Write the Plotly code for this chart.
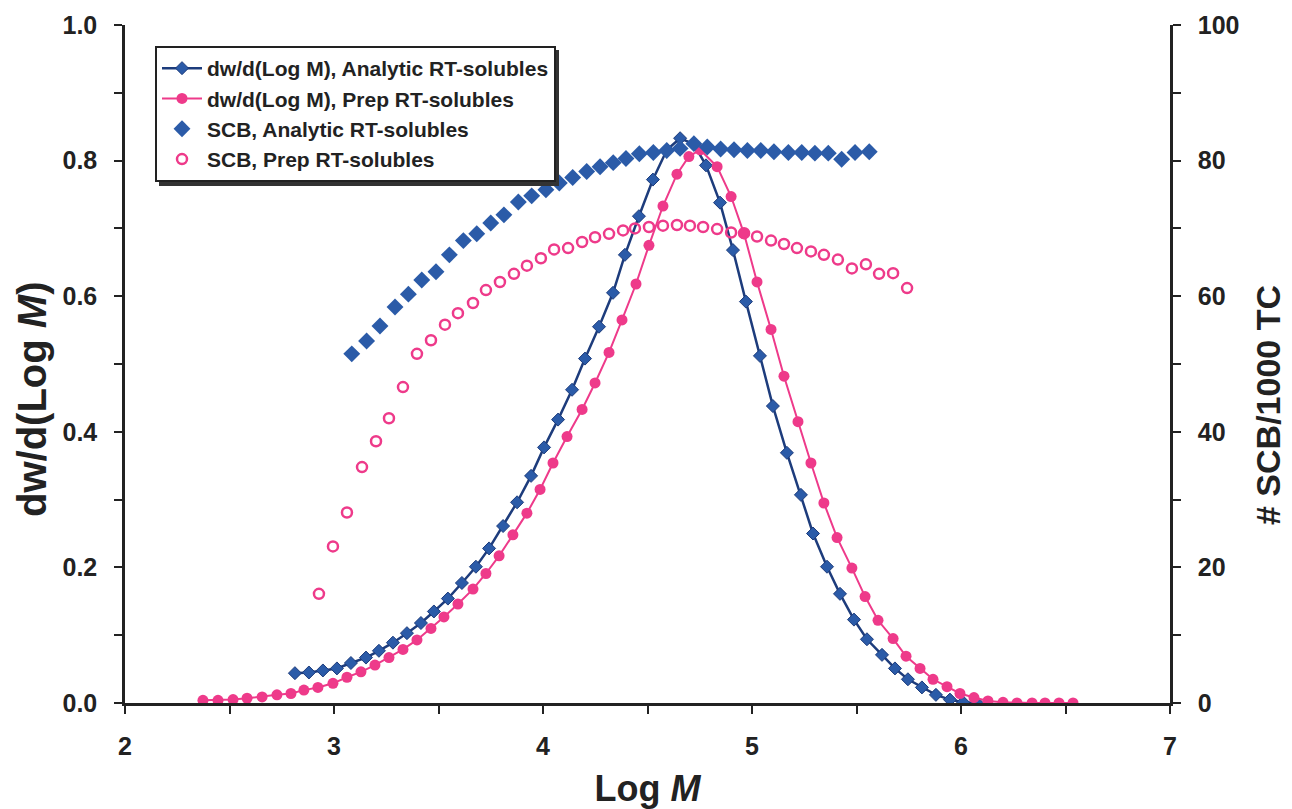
import plotly.graph_objects as go

# ---- data (Log M values and y-values) ----
ana_x = [2.813, 2.880, 2.947, 3.014, 3.081, 3.153, 3.215, 3.282, 3.349, 3.416,
         3.478, 3.545, 3.612, 3.679, 3.742, 3.809, 3.876, 3.943, 4.005, 4.072,
         4.139, 4.201, 4.268, 4.335, 4.392, 4.459, 4.526, 4.593, 4.656, 4.722,
         4.780, 4.847, 4.909, 4.971, 5.038, 5.100, 5.167, 5.234, 5.292, 5.359,
         5.421, 5.488, 5.550, 5.622, 5.684, 5.746, 5.813, 5.880, 5.947, 6.010,
         6.077]
ana_dw = [0.044, 0.045, 0.048, 0.051, 0.059, 0.067, 0.077, 0.089, 0.103, 0.118,
          0.135, 0.154, 0.177, 0.201, 0.228, 0.261, 0.296, 0.335, 0.377, 0.418,
          0.462, 0.508, 0.555, 0.605, 0.661, 0.718, 0.772, 0.816, 0.833, 0.824,
          0.793, 0.738, 0.668, 0.592, 0.512, 0.438, 0.369, 0.307, 0.250, 0.201,
          0.161, 0.123, 0.094, 0.071, 0.051, 0.035, 0.023, 0.012, 0.005, 0.001,
          0.000]

prep_x = [2.373, 2.445, 2.517, 2.584, 2.656, 2.727, 2.794, 2.856, 2.923, 2.995,
          3.062, 3.129, 3.196, 3.263, 3.330, 3.397, 3.464, 3.526, 3.593, 3.665,
          3.727, 3.790, 3.856, 3.923, 3.986, 4.048, 4.115, 4.187, 4.249, 4.316,
          4.378, 4.445, 4.507, 4.574, 4.641, 4.698, 4.752, 4.833, 4.900, 4.962,
          5.024, 5.091, 5.153, 5.220, 5.282, 5.344, 5.407, 5.478, 5.541, 5.603,
          5.675, 5.737, 5.804, 5.866, 5.933, 5.995, 6.062, 6.129, 6.201, 6.268,
          6.340, 6.402, 6.469, 6.536]
prep_dw = [0.004, 0.004, 0.005, 0.007, 0.009, 0.012, 0.014, 0.019, 0.023, 0.029,
           0.038, 0.046, 0.056, 0.067, 0.079, 0.093, 0.110, 0.127, 0.146, 0.168,
           0.191, 0.217, 0.248, 0.280, 0.315, 0.354, 0.393, 0.433, 0.472, 0.517,
           0.565, 0.618, 0.675, 0.733, 0.780, 0.806, 0.816, 0.791, 0.747, 0.692,
           0.621, 0.551, 0.482, 0.415, 0.354, 0.295, 0.244, 0.199, 0.157, 0.122,
           0.095, 0.069, 0.051, 0.035, 0.024, 0.014, 0.008, 0.003, 0.001, 0.000,
           0.000, 0.000, 0.000, 0.000]

scb_ana_x = [3.085, 3.156, 3.220, 3.292, 3.356, 3.420, 3.488, 3.552, 3.619, 3.683,
             3.750, 3.813, 3.882, 3.946, 4.014, 4.078, 4.142, 4.209, 4.273, 4.336,
             4.397, 4.461, 4.528, 4.592, 4.656, 4.722, 4.786, 4.850, 4.914, 4.978,
             5.042, 5.105, 5.174, 5.238, 5.301, 5.365, 5.429, 5.493, 5.561]
scb_ana = [51.5, 53.4, 55.6, 58.4, 60.3, 62.4, 63.6, 66.1, 68.2, 69.2,
           70.8, 72.0, 73.9, 74.8, 75.7, 76.7, 77.5, 78.4, 79.1, 79.7,
           80.3, 81.0, 81.2, 81.5, 81.8, 82.5, 82.0, 81.7, 81.6, 81.5,
           81.5, 81.3, 81.2, 81.2, 81.1, 81.1, 80.2, 81.2, 81.3]

scb_prep_x = [2.928, 2.995, 3.062, 3.134, 3.201, 3.263, 3.330, 3.397, 3.464, 3.531,
              3.593, 3.665, 3.727, 3.794, 3.861, 3.923, 3.990, 4.053, 4.120, 4.187,
              4.249, 4.316, 4.383, 4.440, 4.507, 4.574, 4.641, 4.703, 4.766, 4.833,
              4.900, 4.962, 5.024, 5.091, 5.153, 5.215, 5.282, 5.344, 5.411, 5.478,
              5.545, 5.608, 5.675, 5.742]
scb_prep = [16.1, 23.1, 28.1, 34.8, 38.6, 42.0, 46.6, 51.5, 53.5, 55.8,
            57.5, 59.0, 60.9, 62.1, 63.3, 64.5, 65.6, 66.9, 67.1, 68.0,
            68.7, 69.2, 69.7, 70.0, 70.2, 70.4, 70.5, 70.4, 70.2, 69.9,
            69.4, 69.3, 68.8, 68.2, 67.7, 67.1, 66.6, 66.1, 65.4, 64.1,
            64.7, 63.3, 63.4, 61.2]

names = ["dw/d(Log M), Analytic RT-solubles",
         "dw/d(Log M), Prep RT-solubles",
         "SCB, Analytic RT-solubles",
         "SCB, Prep RT-solubles"]
x_title = "Log <i>M</i>"
y_title = "dw/d(Log <i>M</i>)"
y2_title = "# SCB/1000 TC"

BLUE = "#2b5ba8"
NAVY = "#1d3c7c"
PINK = "#ee3a8a"
INK = "#222222"

fig = go.Figure()
fig.add_trace(go.Scatter(x=ana_x, y=ana_dw, name=names[0], mode="lines+markers",
                         line=dict(color=NAVY, width=2.5),
                         marker=dict(symbol="diamond", size=10, color=BLUE,
                                     line=dict(color=NAVY, width=1))))
fig.add_trace(go.Scatter(x=prep_x, y=prep_dw, name=names[1], mode="lines+markers",
                         line=dict(color=PINK, width=2),
                         marker=dict(symbol="circle", size=11, color=PINK)))
fig.add_trace(go.Scatter(x=scb_ana_x, y=scb_ana, name=names[2], mode="markers",
                         yaxis="y2",
                         marker=dict(symbol="diamond", size=13, color=BLUE)))
fig.add_trace(go.Scatter(x=scb_prep_x, y=scb_prep, name=names[3], mode="markers",
                         yaxis="y2",
                         marker=dict(symbol="circle-open", size=10, color=PINK,
                                     line=dict(color=PINK, width=2.5))))

FONT = "Liberation Sans, Arial, sans-serif"
tickfont = dict(family=FONT, size=25, color=INK, weight="bold")
axcommon = dict(showgrid=False, zeroline=False, showline=True, linecolor=INK,
                linewidth=2.5, ticks="outside", ticklen=8, tickwidth=2,
                tickcolor=INK, tickfont=tickfont, automargin=False)
minor_common = dict(ticks="outside", ticklen=8, tickwidth=2, tickcolor=INK)

W, H = 1292, 809
ML, MR, MT, MB = 125, 122, 25, 106
PW, PH = W - ML - MR, H - MT - MB

fig.update_layout(
    width=W, height=H,
    paper_bgcolor="white", plot_bgcolor="white",
    margin=dict(l=ML, r=MR, t=MT, b=MB, autoexpand=False),
    font=dict(family=FONT, color=INK),
    showlegend=True,
    legend=dict(x=30 / PW, y=1 - 21 / PH, xanchor="left", yanchor="top",
                bgcolor="white", bordercolor=INK, borderwidth=2,
                font=dict(family=FONT, size=21, color=INK, weight="bold"),
                tracegroupgap=0, itemwidth=40),
    xaxis=dict(range=[2, 7], dtick=1, tick0=2,
               minor=dict(dtick=0.5, **minor_common),
               ticklabelstandoff=11,
               title=dict(text=x_title, standoff=19,
                          font=dict(family=FONT, size=36, weight="bold")),
               **axcommon),
    yaxis=dict(range=[0, 1.0], dtick=0.2, tickformat=".1f",
               minor=dict(dtick=0.1, **minor_common),
               ticklabelstandoff=12,
               **axcommon),
    yaxis2=dict(range=[0, 100], dtick=20, overlaying="y", side="right",
                minor=dict(dtick=10, **minor_common),
                ticklabelstandoff=12,
                **axcommon),
)

# y-axis titles (placed slightly below the plot centre, as in the original)
fig.add_annotation(text=y_title, xref="paper", yref="paper",
                   x=-93 / PW, y=1 - 375 / PH, textangle=-90, showarrow=False,
                   xanchor="center", yanchor="middle", borderpad=0,
                   font=dict(family=FONT, size=40, color=INK, weight="bold"))
fig.add_annotation(text=y2_title, xref="paper", yref="paper",
                   x=1 + 98 / PW, y=1 - 380 / PH, textangle=-90, showarrow=False,
                   xanchor="center", yanchor="middle", borderpad=0,
                   font=dict(family=FONT, size=34, color=INK, weight="bold"))

# legend drop shadow (legend box ~ 400 x 136 px, shadow offset 4 px)
LX0, LY0, LW, LH = 30, 21, 400, 136
fig.add_shape(type="rect", xref="paper", yref="paper",
              x0=(LX0 + 4) / PW, x1=(LX0 + LW + 4) / PW,
              y0=1 - (LY0 + LH + 4) / PH, y1=1 - (LY0 + 4) / PH,
              fillcolor="#333333", line=dict(width=0), layer="above")

fig.write_html("out.html", config={"displayModeBar": False},
               post_script="document.body.style.margin='0';")
